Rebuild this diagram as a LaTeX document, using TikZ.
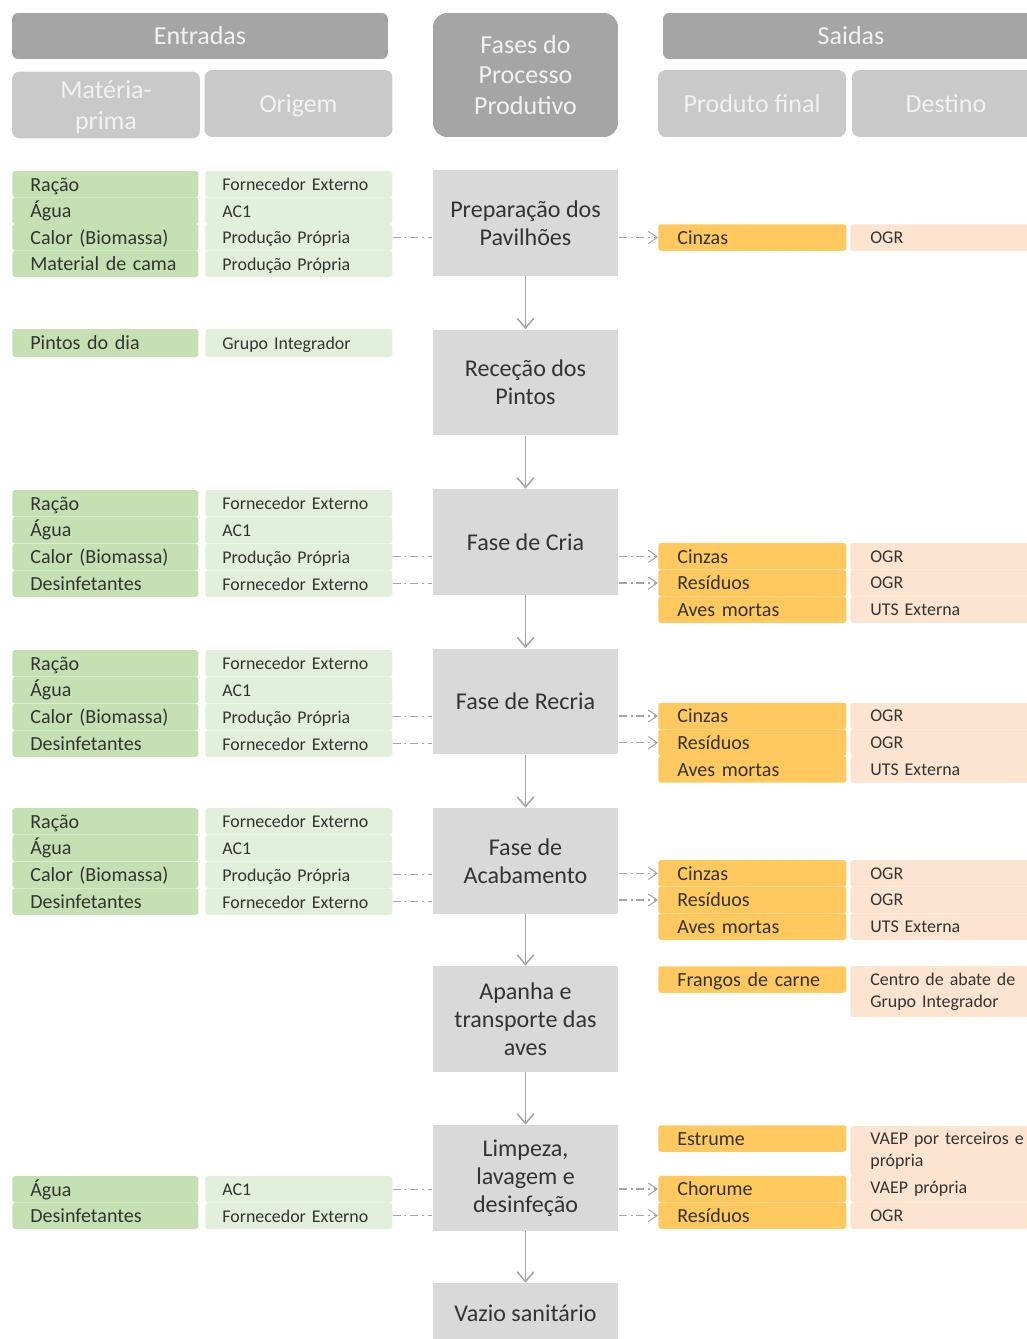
\documentclass[tikz,border=0pt]{standalone}
\usepackage{fontspec}
\setmainfont{Carlito}
\usetikzlibrary{arrows.meta}

\definecolor{hdrdark}{HTML}{A5A5A5}
\definecolor{hdrlight}{HTML}{C9C9C9}
\definecolor{hdrtext}{HTML}{F2F2F2}
\definecolor{phasegray}{HTML}{D9D9D9}
\definecolor{matgreen}{HTML}{C5E0B3}
\definecolor{origgreen}{HTML}{E2EFDA}
\definecolor{outorange}{HTML}{FFC95F}
\definecolor{destpeach}{HTML}{FCE4D0}
\definecolor{txt}{HTML}{333333}
\definecolor{linegray}{HTML}{A6A6A6}

\begin{document}
\begin{tikzpicture}[
    x=0.02cm, y=-0.02cm,
    hdark/.style={rectangle, rounded corners=3.5pt, fill=hdrdark, text=hdrtext,
        font=\fontsize{14.8}{17.6}\selectfont, inner sep=0pt},
    hlight/.style={rectangle, rounded corners=4.5pt, fill=hdrlight, text=hdrtext,
        minimum width=3.76cm, minimum height=1.34cm, align=center, text depth=0pt,
        font=\fontsize{14.8}{17.6}\selectfont, inner sep=0pt},
    phase/.style={rectangle, fill=phasegray, text=txt, minimum width=3.72cm,
        minimum height=2.12cm, align=center, font=\fontsize{13.7}{16}\selectfont},
    mat/.style={rectangle, rounded corners=1.5pt, fill=matgreen, text=txt, anchor=west,
        text width=3.0cm, inner xsep=0.36cm, inner ysep=0pt, minimum height=0.53cm,
        text height=10.3pt, text depth=2.5pt, align=left, font=\fontsize{11.4}{13}\selectfont},
    orig/.style={rectangle, rounded corners=1.5pt, fill=origgreen, text=txt, anchor=west,
        text width=3.06cm, inner xsep=0.34cm, inner ysep=0pt, minimum height=0.53cm,
        text height=9.8pt, text depth=2.5pt, align=left, font=\fontsize{10.2}{12}\selectfont},
    prod/.style={rectangle, rounded corners=1.5pt, fill=outorange, text=txt, anchor=west,
        text width=3.0cm, inner xsep=0.38cm, inner ysep=0pt, minimum height=0.53cm,
        text height=10.3pt, text depth=2.5pt, align=left, font=\fontsize{11.4}{13}\selectfont},
    destbox/.style={rectangle, rounded corners=1.5pt, fill=destpeach, text=txt, anchor=west,
        text width=3.2cm, inner xsep=0.4cm, inner ysep=0pt, minimum height=0.53cm,
        align=left, font=\fontsize{10.2}{12.5}\selectfont},
    flow/.style={draw=linegray, line width=0.9pt, -{Straight Barb[length=5.5pt, width=9.5pt]}},
    inflow/.style={draw=linegray, line width=0.6pt,
        dash pattern=on 4.5pt off 2.2pt on 1.1pt off 2.2pt},
    outflow/.style={inflow, -{Straight Barb[length=5pt, width=7pt]}}
]

\clip (0,0) rectangle (1027,1339);

% --- Headers ---
\node[hdark, minimum width=7.52cm, minimum height=0.92cm] (entradas) at (200,36) {Entradas};
\node[hlight] (materia) at (106,105) {Matéria-\\prima};
\node[hlight] (origem) at (298.5,103.5) {Origem};

\node[hdark, rounded corners=8pt, minimum width=3.7cm, minimum height=2.48cm, align=center]
    (fases) at (525.5,75) {Fases do\\Processo\\Produtivo};

\node[hdark, minimum width=7.52cm, minimum height=0.92cm] (saidas) at (851,36) {Saidas};
\node[hlight] (produto) at (752,103.5) {Produto final};
\node[hlight] (destino) at (946,103.5) {Destino};

% --- Phases of the process ---
\node[phase] (f1) at (525.5,223) {Preparação dos\\Pavilhões};
\node[phase] (f2) at (525.5,382.5) {Receção dos\\Pintos};
\node[phase] (f3) at (525.5,542) {Fase de Cria};
\node[phase] (f4) at (525.5,701.5) {Fase de Recria};
\node[phase] (f5) at (525.5,861) {Fase de\\Acabamento};
\node[phase] (f6) at (525.5,1019) {Apanha e\\transporte das\\aves};
\node[phase] (f7) at (525.5,1178) {Limpeza,\\lavagem e\\desinfeção};
\node[phase, minimum height=1.2cm] (f8) at (525.5,1313) {Vazio sanitário};

\draw[flow] (f1) -- (f2);
\draw[flow] (f2) -- (f3);
\draw[flow] (f3) -- (f4);
\draw[flow] (f4) -- (f5);
\draw[flow] (f5) -- (f6);
\draw[flow] (f6) -- (f7);
\draw[flow] (f7) -- (f8);

% --- (1) Preparação dos Pavilhões ---
\node[mat] (m1a) at (12,184.25) {Ração};
\node[mat] (m1b) at (12,210.75) {Água};
\node[mat] (m1c) at (12,237.25) {Calor (Biomassa)};
\node[mat] (m1d) at (12,263.75) {Material de cama};
\node[orig] (o1a) at (205,184.25) {Fornecedor Externo};
\node[orig] (o1b) at (205,210.75) {AC1};
\node[orig] (o1c) at (205,237.25) {Produção Própria};
\node[orig] (o1d) at (205,263.75) {Produção Própria};

\draw[inflow] (o1c.east) -- (o1c.east -| f1.west);

\node[prod] (p1a) at (658,237.5) {Cinzas};
\node[destbox] (d1a) at (850,237.5) {OGR};

\draw[outflow] (p1a.west -| f1.east) -- (p1a.west);

% --- (2) Receção dos Pintos ---
\node[mat, minimum height=0.56cm] (m2a) at (12,343) {Pintos do dia};
\node[orig, minimum height=0.56cm] (o2a) at (205,343) {Grupo Integrador};

% --- (3) Fase de Cria ---
\node[mat] (m3a) at (12,503.4) {Ração};
\node[mat] (m3b) at (12,530.1) {Água};
\node[mat] (m3c) at (12,556.9) {Calor (Biomassa)};
\node[mat] (m3d) at (12,583.6) {Desinfetantes};
\node[orig] (o3a) at (205,503.4) {Fornecedor Externo};
\node[orig] (o3b) at (205,530.1) {AC1};
\node[orig] (o3c) at (205,556.9) {Produção Própria};
\node[orig] (o3d) at (205,583.6) {Fornecedor Externo};

\draw[inflow] (o3c.east) -- (o3c.east -| f3.west);
\draw[inflow] (o3d.east) -- (o3d.east -| f3.west);

\node[prod] (p3a) at (658,556.3) {Cinzas};
\node[prod] (p3b) at (658,583) {Resíduos};
\node[prod] (p3c) at (658,609.7) {Aves mortas};
\node[destbox] (d3a) at (850,556.3) {OGR};
\node[destbox] (d3b) at (850,583) {OGR};
\node[destbox] (d3c) at (850,609.7) {UTS Externa};

\draw[outflow] (p3a.west -| f3.east) -- (p3a.west);
\draw[outflow] (p3b.west -| f3.east) -- (p3b.west);

% --- (4) Fase de Recria ---
\node[mat] (m4a) at (12,663.4) {Ração};
\node[mat] (m4b) at (12,690.1) {Água};
\node[mat] (m4c) at (12,716.9) {Calor (Biomassa)};
\node[mat] (m4d) at (12,743.6) {Desinfetantes};
\node[orig] (o4a) at (205,663.4) {Fornecedor Externo};
\node[orig] (o4b) at (205,690.1) {AC1};
\node[orig] (o4c) at (205,716.9) {Produção Própria};
\node[orig] (o4d) at (205,743.6) {Fornecedor Externo};

\draw[inflow] (o4c.east) -- (o4c.east -| f4.west);
\draw[inflow] (o4d.east) -- (o4d.east -| f4.west);

\node[prod] (p4a) at (658,716) {Cinzas};
\node[prod] (p4b) at (658,742.7) {Resíduos};
\node[prod] (p4c) at (658,769.4) {Aves mortas};
\node[destbox] (d4a) at (850,716) {OGR};
\node[destbox] (d4b) at (850,742.7) {OGR};
\node[destbox] (d4c) at (850,769.4) {UTS Externa};

\draw[outflow] (p4a.west -| f4.east) -- (p4a.west);
\draw[outflow] (p4b.west -| f4.east) -- (p4b.west);

% --- (5) Fase de Acabamento ---
\node[mat] (m5a) at (12,821.4) {Ração};
\node[mat] (m5b) at (12,848.1) {Água};
\node[mat] (m5c) at (12,874.9) {Calor (Biomassa)};
\node[mat] (m5d) at (12,901.6) {Desinfetantes};
\node[orig] (o5a) at (205,821.4) {Fornecedor Externo};
\node[orig] (o5b) at (205,848.1) {AC1};
\node[orig] (o5c) at (205,874.9) {Produção Própria};
\node[orig] (o5d) at (205,901.6) {Fornecedor Externo};

\draw[inflow] (o5c.east) -- (o5c.east -| f5.west);
\draw[inflow] (o5d.east) -- (o5d.east -| f5.west);

\node[prod] (p5a) at (658,873.3) {Cinzas};
\node[prod] (p5b) at (658,900) {Resíduos};
\node[prod] (p5c) at (658,926.7) {Aves mortas};
\node[destbox] (d5a) at (850,873.3) {OGR};
\node[destbox] (d5b) at (850,900) {OGR};
\node[destbox] (d5c) at (850,926.7) {UTS Externa};

\draw[outflow] (p5a.west -| f5.east) -- (p5a.west);
\draw[outflow] (p5b.west -| f5.east) -- (p5b.west);

% --- (6) Apanha e transporte ---
\node[prod] (p6a) at (658,979.5) {Frangos de carne};
\node[destbox, minimum height=1.02cm] (d6a) at (850,991.5) {Centro de abate de\\Grupo Integrador};

% --- (7) Limpeza, lavagem e desinfeção ---
\node[mat] (m7a) at (12,1189.3) {Água};
\node[mat] (m7b) at (12,1215.8) {Desinfetantes};
\node[orig] (o7a) at (205,1189.3) {AC1};
\node[orig] (o7b) at (205,1215.8) {Fornecedor Externo};

\draw[inflow] (o7a.east) -- (o7a.east -| f7.west);
\draw[inflow] (o7b.east) -- (o7b.east -| f7.west);

\node[prod] (p7a) at (658,1138.5) {Estrume};
\node[prod] (p7b) at (658,1189) {Chorume};
\node[prod] (p7c) at (658,1215.5) {Resíduos};
\node[destbox, minimum height=1.0cm] (d7a) at (850,1151) {VAEP por terceiros e\\própria};
\node[destbox] (d7b) at (850,1189) {VAEP própria};
\node[destbox] (d7c) at (850,1215.5) {OGR};

\draw[outflow] (p7b.west -| f7.east) -- (p7b.west);
\draw[outflow] (p7c.west -| f7.east) -- (p7c.west);

\end{tikzpicture}
\end{document}
